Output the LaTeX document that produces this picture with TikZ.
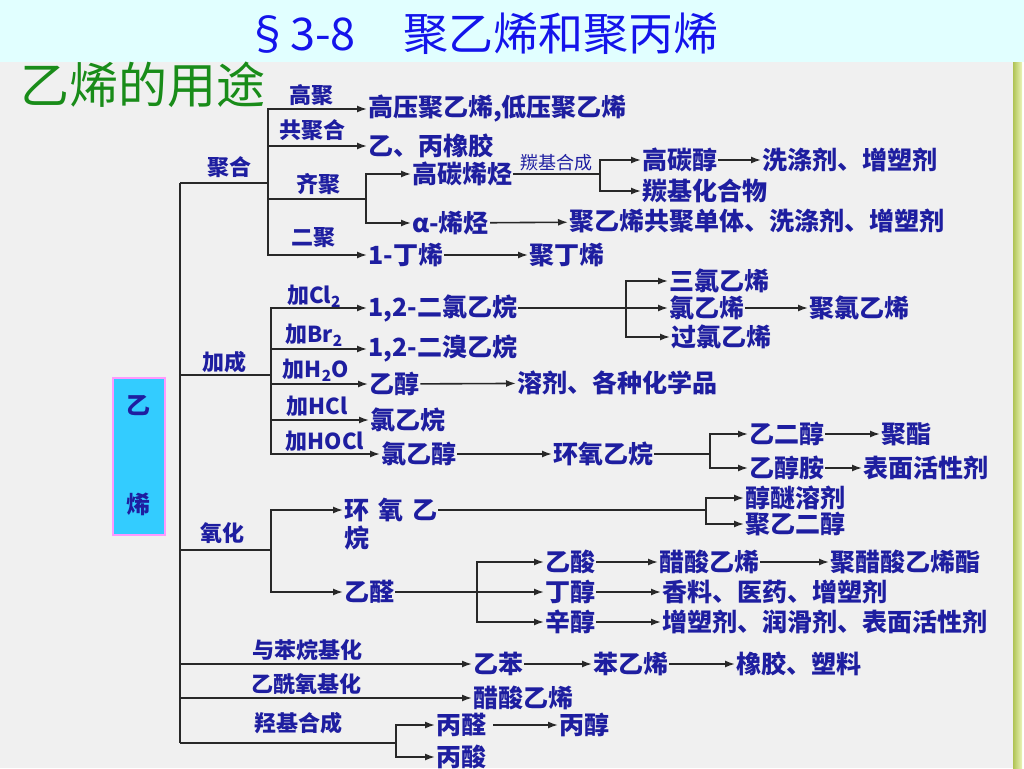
\documentclass[tikz,border=0pt]{standalone}
\usepackage{fontspec}
\setmainfont{Noto Sans CJK SC}
\usetikzlibrary{arrows.meta}
\definecolor{itemblue}{RGB}{30,30,160}
\definecolor{titleblue}{RGB}{20,20,235}
\definecolor{titlegreen}{RGB}{25,140,25}
\definecolor{topband}{RGB}{225,255,255}
\definecolor{panel}{RGB}{240,240,240}
\definecolor{boxcyan}{RGB}{51,204,255}
\definecolor{boxpink}{RGB}{255,153,255}
\definecolor{linegray}{RGB}{40,40,40}
\definecolor{stripeA}{RGB}{175,195,85}
\definecolor{stripeB}{RGB}{235,245,185}
\tikzset{
    item/.style={anchor=west, inner xsep=1pt, inner ysep=0pt, text=itemblue,
    font=\fontsize{25}{30}\selectfont\bfseries},
    tag/.style={inner sep=0pt, text=itemblue, font=\fontsize{22}{26}\selectfont\bfseries},
    thin tag/.style={inner sep=2pt, text=itemblue, font=\fontsize{18}{22}\selectfont},
    ln/.style={draw=linegray, line width=1.6pt},
    arr/.style={ln, -{Latex[length=10pt,width=7pt]}},
    rootbox/.style={draw=boxpink, line width=2pt, fill=boxcyan, minimum width=52pt,
    minimum height=157pt, align=center, text=itemblue,
    font=\fontsize{24}{29}\selectfont\bfseries}
}

\begin{document}
\begin{tikzpicture}[x=1pt,y=-1pt]
\useasboundingbox (0,0) rectangle (1024,768);
\fill[panel] (0,62) rectangle (1013,768);
\fill[topband] (0,0) rectangle (1024,62);
\shade[left color=stripeA, right color=stripeB] (1013,62) rectangle (1022,768);

\node[anchor=west, inner sep=0pt, text=titleblue, font=\fontsize{45}{50}\selectfont] (title) at (245,34) {§3-8\hspace{48pt}聚乙烯和聚丙烯};
\node[anchor=west, inner sep=0pt, text=titlegreen, font=\fontsize{49}{54}\selectfont] (usage) at (20,85) {乙烯的用途};

\node[rootbox] (root) at (138.5,456) {乙\\[70pt]烯};

% trunk and fork points
\coordinate (trunkTop) at (180,183);
\coordinate (trunkBot) at (180,743);
\coordinate (juhe) at (268,183);
\coordinate (qiju) at (366,199);
\coordinate (tanji) at (600,174);
\coordinate (jiacheng) at (271,375);
\coordinate (erlvFork) at (626,308);
\coordinate (hyFork) at (710,454);
\coordinate (yanghua) at (271,550);
\coordinate (hywFork) at (706,510);
\coordinate (yqFork) at (477,592);
\coordinate (qjFork) at (396,743);

% polymerisation
\node[item] (gaoya) at (367,109) {高压聚乙烯,低压聚乙烯};
\node[item] (yibing) at (367,146) {乙、丙橡胶};
\node[item] (gaotan) at (411,174) {高碳烯烃};
\node[item] (alpha) at (411,223) {α-烯烃};
\node[item] (juyixi) at (568,221) {聚乙烯共聚单体、洗涤剂、增塑剂};
\node[item] (gaotanchun) at (641,160) {高碳醇};
\node[item] (xidi) at (761,160) {洗涤剂、增塑剂};
\node[item] (tanjihe) at (641,191) {羰基化合物};
\node[item] (dingxi) at (367,255) {1-丁烯};
\node[item] (judingxi) at (528,255) {聚丁烯};

\node[tag] (tJuhe) at (229,167) {聚合};
\node[tag] (tGaoju) at (311,95) {高聚};
\node[tag] (tGongju) at (312,130) {共聚合};
\node[tag] (tQiju) at (318,184) {齐聚};
\node[tag] (tErju) at (313,238) {二聚};

% addition
\node[item] (erlv) at (367,308) {1,2-二氯乙烷};
\node[item] (erxiu) at (367,349) {1,2-二溴乙烷};
\node[item] (yichun) at (368,384) {乙醇};
\node[item] (rongji) at (516,383) {溶剂、各种化学品};
\node[item] (lvyiwan) at (369,420) {氯乙烷};
\node[item] (lvyichun) at (380,454) {氯乙醇};
\node[item] (huanyang) at (552,454) {环氧乙烷};
\node[item] (sanlv) at (668,281) {三氯乙烯};
\node[item] (lvyixi) at (668,308) {氯乙烯};
\node[item] (julv) at (808,308) {聚氯乙烯};
\node[item] (guolv) at (670,337) {过氯乙烯};
\node[item] (yierchun) at (748,434) {乙二醇};
\node[item] (juzhi) at (880,434) {聚酯};
\node[item] (yichunan) at (748,468) {乙醇胺};
\node[item] (biaomian) at (862,468) {表面活性剂};

\node[tag] (tJiacheng) at (224,362) {加成};
\node[tag] (tCl) at (314,296) {加Cl\textsubscript{2}};
\node[tag] (tBr) at (314,335) {加Br\textsubscript{2}};
\node[tag] (tH2O) at (316,370) {加H\textsubscript{2}O};
\node[tag] (tHCl) at (317,406) {加HCl};
\node[tag] (tHOCl) at (325,441) {加HOCl};

% oxidation
\node[item] (hyyw) at (343,510) {环\hspace{9pt}氧\hspace{9pt}乙};
\node[item] (hyyw2) at (343,538) {烷};
\node[item] (chunmi) at (744,498) {醇醚溶剂};
\node[item] (juyier) at (744,524) {聚乙二醇};
\node[item] (yiquan) at (343,592) {乙醛};
\node[item] (yisuan) at (544,562) {乙酸};
\node[item] (dingchun) at (544,592) {丁醇};
\node[item] (xinchun) at (544,622) {辛醇};
\node[item] (cusuan) at (658,562) {醋酸乙烯};
\node[item] (jucusuan) at (829,562) {聚醋酸乙烯酯};
\node[item] (xiangliao) at (661,592) {香料、医药、增塑剂};
\node[item] (zengsu) at (661,622) {增塑剂、润滑剂、表面活性剂};

\node[tag] (tYanghua) at (222,533) {氧化};

% other routes
\node[item] (yiben) at (472,664) {乙苯};
\node[item] (benyixi) at (592,664) {苯乙烯};
\node[item] (xiangjiao) at (735,664) {橡胶、塑料};
\node[item] (cusuan2) at (472,698) {醋酸乙烯};
\node[item] (bingquan) at (435,725) {丙醛};
\node[item] (bingchun) at (558,725) {丙醇};
\node[item] (bingsuan) at (435,757) {丙酸};

\node[tag] (tBen) at (307,650) {与苯烷基化};
\node[tag] (tXian) at (306,684) {乙酰氧基化};
\node[tag] (tQiang) at (298,723) {羟基合成};

% trunk
\draw[ln] (trunkTop) -- (trunkBot);
\draw[ln] (trunkTop) -- (juhe);
\draw[ln] (trunkTop |- jiacheng) -- (jiacheng);
\draw[ln] (trunkTop |- yanghua) -- (yanghua);
\draw[arr] (trunkTop |- yiben) -- (yiben);
\draw[arr] (trunkTop |- cusuan2) -- (cusuan2);
\draw[ln] (trunkBot) -- (qjFork);

% polymerisation links
\draw[arr] (juhe) |- (gaoya);
\draw[arr] (juhe) |- (yibing);
\draw[ln] (juhe) |- (qiju);
\draw[arr] (juhe) |- (dingxi);
\draw[arr] (qiju) |- (gaotan);
\draw[arr] (qiju) |- (alpha);
\draw[arr] (alpha) -- (juyixi);
\draw[ln] (gaotan) -- node[above, thin tag]{羰基合成} (tanji);
\draw[arr] (tanji) |- (gaotanchun);
\draw[arr] (tanji) |- (tanjihe);
\draw[arr] (gaotanchun) -- (xidi);
\draw[arr] (dingxi) -- (judingxi);

% addition links
\draw[arr] (jiacheng) |- (erlv);
\draw[arr] (jiacheng) |- (erxiu);
\draw[arr] (jiacheng) |- (yichun);
\draw[arr] (jiacheng) |- (lvyiwan);
\draw[arr] (jiacheng) |- (lvyichun);
\draw[ln] (erlv) -- (erlvFork);
\draw[arr] (erlvFork) |- (sanlv);
\draw[arr] (erlvFork) -- (lvyixi);
\draw[arr] (erlvFork) |- (guolv);
\draw[arr] (lvyixi) -- (julv);
\draw[arr] (yichun) -- (rongji);
\draw[arr] (lvyichun) -- (huanyang);
\draw[ln] (huanyang) -- (hyFork);
\draw[arr] (hyFork) |- (yierchun);
\draw[arr] (hyFork) |- (yichunan);
\draw[arr] (yierchun) -- (juzhi);
\draw[arr] (yichunan) -- (biaomian);

% oxidation links
\draw[arr] (yanghua) |- (hyyw);
\draw[arr] (yanghua) |- (yiquan);
\draw[ln] (hyyw) -- (hywFork);
\draw[arr] (hywFork) |- (chunmi);
\draw[arr] (hywFork) |- (juyier);
\draw[ln] (yiquan) -- (yqFork);
\draw[arr] (yqFork) |- (yisuan);
\draw[arr] (yqFork) -- (dingchun);
\draw[arr] (yqFork) |- (xinchun);
\draw[arr] (yisuan) -- (cusuan);
\draw[arr] (cusuan) -- (jucusuan);
\draw[arr] (dingchun) -- (xiangliao);
\draw[arr] (xinchun) -- (zengsu);

% other links
\draw[arr] (yiben) -- (benyixi);
\draw[arr] (benyixi) -- (xiangjiao);
\draw[arr] (qjFork) |- (bingquan);
\draw[arr] (qjFork) |- (bingsuan);
\draw[arr, shorten <=6pt] (bingquan) -- (bingchun);

\end{tikzpicture}
\end{document}
